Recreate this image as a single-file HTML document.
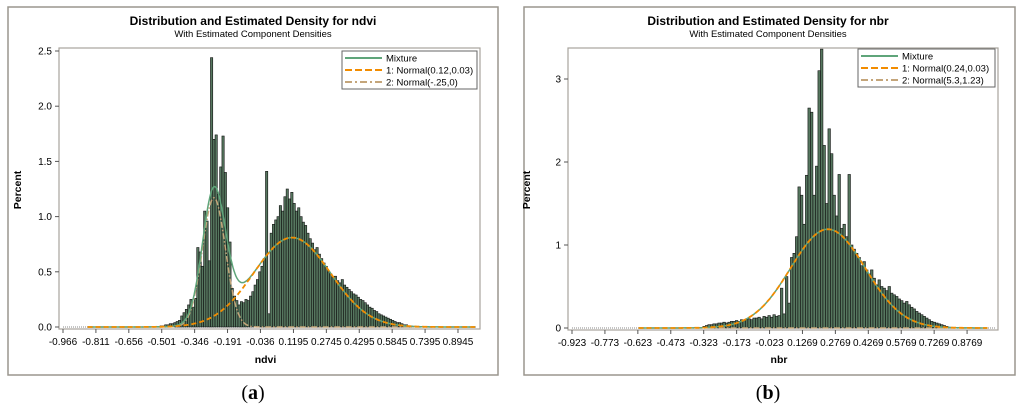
<!DOCTYPE html>
<html><head><meta charset="utf-8"><style>
html,body{margin:0;padding:0;background:#fff;width:1024px;height:408px;overflow:hidden}
svg text{font-family:"Liberation Sans",Arial,sans-serif}
svg text.cap{font-family:"Liberation Serif",serif}
</style></head><body>
<svg id="s" width="1024" height="408" viewBox="0 0 1024 408" xmlns="http://www.w3.org/2000/svg"></svg>
<script>
// ---- Panel (a) ndvi data ----
const ndviTicks = ["-0.966","-0.811","-0.656","-0.501","-0.346","-0.191","-0.036","0.1195","0.2745","0.4295","0.5845","0.7395","0.8945"];
const ndviYTicks = ["0.0","0.5","1.0","1.5","2.0","2.5"];
const ndviBinStart = -0.509;
const ndviBinWidth = 0.0108;
const ndviHeights = [0.01,0.01,0.02,0.02,0.03,0.03,0.04,0.05,0.06,
0.10,0.13,0.16,0.20,0.25,0.18,0.26,
0.72,0.68,0.55,1.05,
0.96,0.60,
2.44,
1.70,1.74,1.20,1.45,1.73,1.40,1.08,0.77,
0.35,0.28,0.24,0.20,0.23,0.22,0.25,0.24,
0.28,0.32,0.38,0.43,0.50,0.55,0.62,
1.41,
0.12,
0.85,0.93,0.97,1.00,1.10,1.05,1.18,1.25,1.16,1.22,
1.12,1.05,1.08,1.00,0.95,0.92,0.85,
0.80,0.76,0.70,0.72,0.66,0.62,0.58,0.55,0.50,
0.48,0.45,0.46,0.42,0.40,0.43,0.38,0.36,0.34,
0.32,0.30,0.29,0.27,0.25,0.24,0.22,0.20,0.18,
0.17,0.15,0.14,0.12,0.11,0.10,0.09,0.08,0.07,
0.06,0.05,0.04,0.04,0.03,0.02,0.02,0.01,0.01];
const ndviComp1 = [0.113, 0.18, 0.81];   // mean, sd, peak
const ndviComp2 = [-0.255, 0.054, 1.17];
const ndviLegend = ["Mixture","1: Normal(0.12,0.03)","2: Normal(-.25,0)"];

// ---- Panel (b) nbr data ----
const nbrTicks = ["-0.923","-0.773","-0.623","-0.473","-0.323","-0.173","-0.023","0.1269","0.2769","0.4269","0.5769","0.7269","0.8769"];
const nbrYTicks = ["0","1","2","3"];
const nbrBinStart = -0.327;
const nbrBinWidth = 0.0114;
const nbrHeights = [0.02,0.03,0.04,0.04,0.05,0.05,0.06,0.06,0.07,0.06,0.07,0.08,0.08,0.09,0.08,0.10,0.09,0.10,0.11,0.10,0.12,
0.12,0.13,0.11,0.14,0.13,0.15,0.13,0.16,0.14,0.15,
0.48,0.17,0.62,0.30,0.85,0.90,1.10,1.70,1.60,1.25,
1.84,2.65,2.60,1.60,1.95,3.10,3.36,2.20,1.50,2.40,
2.10,1.60,1.35,1.85,1.20,1.25,1.10,1.85,1.00,0.95,
0.90,0.85,0.75,0.80,0.70,0.65,0.70,0.60,0.52,0.58,
0.50,0.48,0.45,0.50,0.42,0.40,0.38,0.35,0.33,0.30,
0.32,0.28,0.25,0.23,0.20,0.18,0.16,0.14,0.12,0.10,
0.08,0.07,0.06,0.05,0.04,0.03,0.02,0.01];
const nbrComp1 = [0.243, 0.17, 1.19];
const nbrComp2 = [5.3, 1.23, 0];
const nbrLegend = ["Mixture","1: Normal(0.24,0.03)","2: Normal(5.3,1.23)"];

const NS="http://www.w3.org/2000/svg";
const svg=document.getElementById('s');
function mk(tag,attrs,parent,text){const e=document.createElementNS(NS,tag);for(const k in attrs)e.setAttribute(k,attrs[k]);if(text!==undefined)e.textContent=text;(parent||svg).appendChild(e);return e;}

function panel(o){
  const g=mk('g',{});
  
  
  const fr=mk('rect',{x:o.bx,y:7,width:o.bw,height:368,fill:'#fff',stroke:'#9a968e','stroke-width':1.5},g);
  
  
  const t=mk('text',{x:o.tcx,y:25,'text-anchor':'middle','font-size':12,'font-weight':'bold'},g,o.title);
  
  
  const st=mk('text',{x:o.tcx,y:37,'text-anchor':'middle','font-size':9.5},g,'With Estimated Component Densities');
  
  
  const xs=v=>o.x0px+(v-o.x0v)*o.xk;
  const ys=v=>o.y0px-v*o.yk;
  const pf=mk('rect',{x:o.pl,y:48,width:o.pr-o.pl,height:o.y0px+2-48,fill:'none',stroke:'#a8a49c','stroke-width':1.2},g);
  
  
  mk('line',{x1:xs(o.x0v),x2:o.pr-3,y1:o.y0px,y2:o.y0px,stroke:'#888','stroke-width':1,'stroke-dasharray':'1 1'},g);
  const bw=o.bw_v*o.xk;
  o.heights.forEach((h,i)=>{
    const v=o.binStart+i*o.bw_v;
    const r=mk('rect',{x:xs(v),y:ys(h),width:bw,height:o.y0px-ys(h),fill:'#56775f',stroke:'#111','stroke-width':0.6},g);
    
    
  });
  const pdf=(c,v)=>c[2]*Math.exp(-0.5*Math.pow((v-c[0])/c[1],2));
  const lo=o.curveLo, hi=o.curveHi;
  function path(f){let d='';for(let k=0;k<=400;k++){const v=lo+(hi-lo)*k/400;d+=(k?'L':'M')+xs(v).toFixed(1)+','+ys(f(v)).toFixed(1);}return d;}
  const c2=mk('path',{d:path(v=>pdf(o.c2,v)),fill:'none',stroke:'#c4a57a','stroke-width':1.5,'stroke-dasharray':'6 2 1.5 2'},g);
  
  
  const mx=mk('path',{d:path(v=>pdf(o.c1,v)+pdf(o.c2,v)),fill:'none',stroke:'#5fa57a','stroke-width':1.5},g);
  
  
  const c1=mk('path',{d:path(v=>pdf(o.c1,v)),fill:'none',stroke:'#f28c00','stroke-width':1.8,'stroke-dasharray':'5 3'},g);
  
  
  o.xticks.forEach((lab,i)=>{
    const x=xs(parseFloat(lab));
    mk('line',{x1:x,x2:x,y1:o.y0px+2,y2:o.y0px+6,stroke:'#555'},g);
    const t=mk('text',{x:x,y:o.y0px+18,'text-anchor':'middle','font-size':10},g,lab);
    
    
  });
  o.yticks.forEach(lab=>{
    const y=ys(parseFloat(lab));
    mk('line',{x1:o.pl-4,x2:o.pl,y1:y,y2:y,stroke:'#555'},g);
    const t=mk('text',{x:o.pl-7,y:y+3.5,'text-anchor':'end','font-size':10},g,lab);
    
    
  });
  const xl=mk('text',{x:(o.pl+o.pr)/2-4,y:363,'text-anchor':'middle','font-size':10.5,'font-weight':'bold'},g,o.xlabel);
  
  
  const yl=mk('text',{x:0,y:0,'text-anchor':'middle','font-size':10.5,'font-weight':'bold',transform:`translate(${o.pl-38},190) rotate(-90)`},g,'Percent');
  
  
  const lg=mk('g',{},g);
  
  
  mk('rect',{x:o.lx,y:o.ly,width:o.pr-3-o.lx,height:38,fill:'#fff',stroke:'#666','stroke-width':1},lg);
  const styles=[{stroke:'#5fa57a','stroke-dasharray':'none'},{stroke:'#f28c00','stroke-dasharray':'7 3'},{stroke:'#c4a57a','stroke-dasharray':'7 3 2 3'}];
  o.legend.forEach((lab,i)=>{
    const y=o.ly+7+i*12;
    mk('line',{x1:o.lx+3,x2:o.lx+40,y1:y,y2:y,'stroke-width':2,stroke:styles[i].stroke,'stroke-dasharray':styles[i]['stroke-dasharray']},lg);
    const t=mk('text',{x:o.lx+44,y:y+3.5,'font-size':9.5},lg,lab);
    
    
  });
  const cap=mk('text',{x:o.tcx,y:399,'text-anchor':'middle','font-size':20,'class':'cap'},g);
  
  
  mk('tspan',{},cap,'(');
  mk('tspan',{'font-weight':'bold'},cap,o.cap);
  mk('tspan',{},cap,')');
}

panel({name:'ndvi-chart',bx:8,bw:490,tcx:253,title:'Distribution and Estimated Density for ndvi',
  pl:59,pr:480,x0px:63,x0v:-0.966,xk:212.3,y0px:327,yk:110.4,
  heights:ndviHeights,binStart:ndviBinStart,bw_v:ndviBinWidth,c1:ndviComp1,c2:ndviComp2,
  curveLo:-0.85,curveHi:0.975,xticks:ndviTicks,yticks:ndviYTicks,xlabel:'ndvi',lx:342,ly:51,legend:ndviLegend,cap:'a'});
panel({name:'nbr-chart',bx:524,bw:491,tcx:768,title:'Distribution and Estimated Density for nbr',
  pl:568,pr:998,x0px:572,x0v:-0.923,xk:219.5,y0px:328,yk:83,
  heights:nbrHeights,binStart:nbrBinStart,bw_v:nbrBinWidth,c1:nbrComp1,c2:nbrComp2,
  curveLo:-0.62,curveHi:0.97,xticks:nbrTicks,yticks:nbrYTicks,xlabel:'nbr',lx:858,ly:49,legend:nbrLegend,cap:'b'});
</script>
</body></html>
